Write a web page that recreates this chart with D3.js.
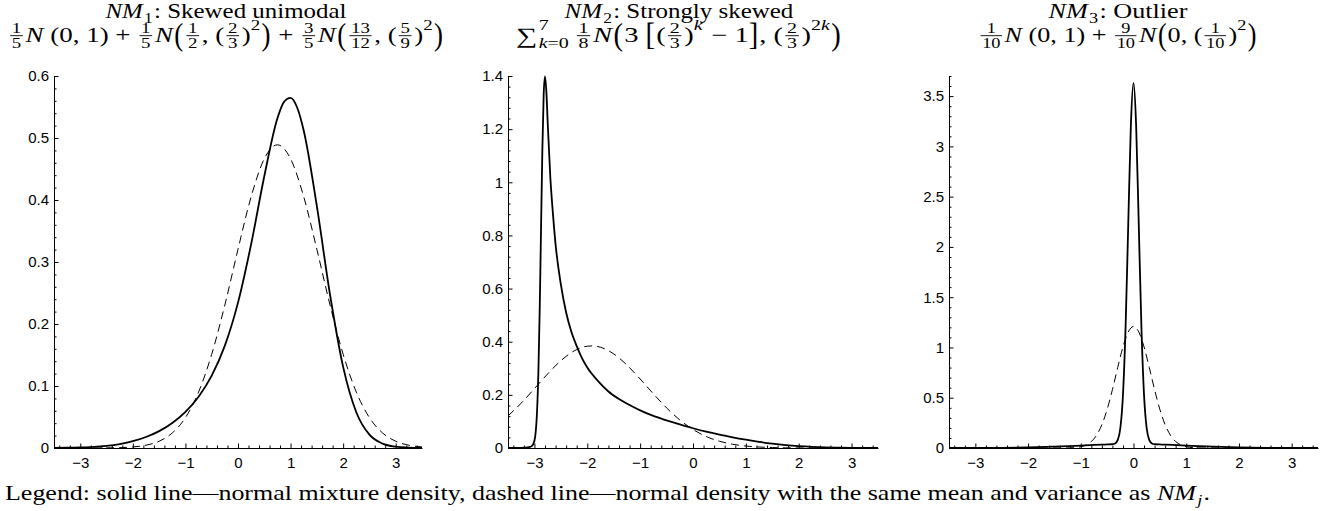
<!DOCTYPE html>
<html lang="en">
<head>
    <meta charset="UTF-8">
    <title>Normal mixture densities</title>
</head>
<style>
    body { margin: 0; background: #fff; }
    text { fill: #000; }
</style>
<script src="https://cdn.jsdelivr.net/npm/d3@7"></script>
<body>
<script>
    // ---- data ----
    // NM1: skewed unimodal
    var nm1X = [-3.5, -3.25, -3, -2.75, -2.5, -2.25, -2, -1.75, -1.5, -1.25, -1, -0.75, -0.5, -0.25, 0, 0.25, 0.5, 0.75, 0.875, 1, 1.125, 1.25, 1.5, 1.75, 2, 2.25, 2.5, 2.75, 3, 3.25, 3.5];
    var nm1Mix = [0.0002, 0.0004, 0.0009, 0.0018, 0.0035, 0.0064, 0.0109, 0.0177, 0.0272, 0.0404, 0.0583, 0.0827, 0.1167, 0.1651, 0.2345, 0.3288, 0.4384, 0.5317, 0.5582, 0.5648, 0.5492, 0.5120, 0.3900, 0.2476, 0.1308, 0.0577, 0.0215, 0.0070, 0.0021, 0.0007, 0.0002];
    var nm1NX = [-3.5, -3.25, -3, -2.75, -2.5, -2.25, -2, -1.75, -1.5, -1.25, -1, -0.75, -0.5, -0.25, 0, 0.25, 0.5, 0.75, 1, 1.25, 1.5, 1.75, 2, 2.25, 2.5, 2.75, 3, 3.25, 3.5];
    var nm1Normal = [0, 0, 0, 0.0001, 0.0002, 0.0006, 0.0017, 0.0045, 0.0109, 0.0242, 0.0490, 0.0902, 0.1512, 0.2307, 0.3205, 0.4053, 0.4665, 0.4890, 0.4665, 0.4053, 0.3205, 0.2307, 0.1512, 0.0902, 0.0490, 0.0242, 0.0109, 0.0045, 0.0017];

    // NM2: strongly skewed
    var nm2X = [-3.5, -3.25, -3.1, -3.05, -3, -2.975, -2.95, -2.925, -2.9, -2.875, -2.85, -2.825, -2.8, -2.775, -2.75, -2.7, -2.65, -2.6, -2.5, -2.4, -2.3, -2.2, -2.1, -2, -1.8, -1.6, -1.4, -1.2, -1, -0.75, -0.5, -0.25, 0, 0.25, 0.5, 0.75, 1, 1.25, 1.5, 1.75, 2, 2.25, 2.5, 2.75, 3, 3.25, 3.5];
    var nm2Mix = [0.0002, 0.0008, 0.0032, 0.0071, 0.0273, 0.0621, 0.1394, 0.2871, 0.5220, 0.8231, 1.1219, 1.3297, 1.3988, 1.3439, 1.2295, 1.0208, 0.8819, 0.7665, 0.6155, 0.5099, 0.4364, 0.3836, 0.3381, 0.3027, 0.2528, 0.2128, 0.1844, 0.1619, 0.1416, 0.1207, 0.1041, 0.0888, 0.0743, 0.0612, 0.0500, 0.0400, 0.0311, 0.0231, 0.0163, 0.0108, 0.0067, 0.0040, 0.0022, 0.0011, 0.0006, 0.0003, 0.0001];
    var nm2NX = [-3.5, -3.25, -3, -2.75, -2.5, -2.25, -2, -1.9, -1.75, -1.5, -1.25, -1, -0.75, -0.5, -0.25, 0, 0.25, 0.5, 0.75, 1, 1.25, 1.5, 1.75, 2, 2.25, 2.5, 3, 3.5];
    var nm2Normal = [0.1205, 0.1689, 0.2234, 0.2789, 0.3286, 0.3652, 0.3831, 0.3843, 0.3792, 0.3542, 0.3122, 0.2597, 0.2039, 0.1510, 0.1056, 0.0696, 0.0433, 0.0255, 0.0141, 0.0074, 0.0036, 0.0017, 0.0007, 0.0003, 0.0001, 0, 0, 0];

    // NM3: outlier
    var nm3X = [-3.5, -3, -2.5, -2, -1.5, -1, -0.75, -0.6, -0.5, -0.4, -0.35, -0.3, -0.25, -0.2, -0.15, -0.1, -0.05, 0, 0.05, 0.1, 0.15, 0.2, 0.25, 0.3, 0.35, 0.4, 0.5, 0.6, 0.75, 1, 1.5, 2, 2.5, 3, 3.5];
    var nm3Mix = [0.0001, 0.0004, 0.0018, 0.0054, 0.0130, 0.0242, 0.0301, 0.0333, 0.0352, 0.0380, 0.0454, 0.0780, 0.1964, 0.5250, 1.2051, 2.2174, 3.2084, 3.6304, 3.2084, 2.2174, 1.2051, 0.5250, 0.1964, 0.0780, 0.0454, 0.0380, 0.0352, 0.0333, 0.0301, 0.0242, 0.0130, 0.0054, 0.0018, 0.0004, 0.0001];
    var nm3NX = [-3.5, -2, -1.6, -1.4, -1.2, -1, -0.9, -0.8, -0.7, -0.6, -0.5, -0.4, -0.3, -0.2, -0.1, 0, 0.1, 0.2, 0.3, 0.4, 0.5, 0.6, 0.7, 0.8, 0.9, 1, 1.2, 1.4, 1.6, 2, 3.5];
    var nm3Normal = [0, 0, 0, 0.0002, 0.0016, 0.0123, 0.0294, 0.0641, 0.1277, 0.2318, 0.3838, 0.5800, 0.7997, 1.0058, 1.1542, 1.2084, 1.1542, 1.0058, 0.7997, 0.5800, 0.3838, 0.2318, 0.1277, 0.0641, 0.0294, 0.0123, 0.0016, 0.0002, 0, 0, 0];

    // tick labels
    var xTicks = [-3, -2, -1, 0, 1, 2, 3];
    var yTicks1 = [0, 0.1, 0.2, 0.3, 0.4, 0.5, 0.6];
    var yTicks2 = [0, 0.2, 0.4, 0.6, 0.8, 1, 1.2, 1.4];
    var yTicks3 = [0, 0.5, 1, 1.5, 2, 2.5, 3, 3.5];

    // titles, as little math token lists
    var titles = [
        [["i", "NM"], ["sub", "1"], ["t", ": Skewed unimodal"]],
        [["i", "NM"], ["sub", "2"], ["t", ": Strongly skewed"]],
        [["i", "NM"], ["sub", "3"], ["t", ": Outlier"]]
    ];
    var formulas = [
        [["frac", "1", "5"], ["i", "N"], ["sp", 0.2], ["t", "(0, 1) + "], ["frac", "1", "5"], ["i", "N"], ["big", "(", 1.5],
         ["frac", "1", "2"], ["t", ", ("], ["frac", "2", "3"], ["t", ")"], ["sup", "2"], ["big", ")", 1.5], ["t", " + "],
         ["frac", "3", "5"], ["i", "N"], ["big", "(", 1.5], ["frac", "13", "12"], ["t", ", ("], ["frac", "5", "9"], ["t", ")"], ["sup", "2"], ["big", ")", 1.5]],
        [["sum", "7", "k=0"], ["frac", "1", "8"], ["i", "N"], ["big", "(", 1.5], ["t", "3 "], ["big", "[", 1.5], ["t", "("], ["frac", "2", "3"], ["t", ")"], ["sup", "k"],
         ["t", " − 1"], ["big", "]", 1.5], ["t", ", ("], ["frac", "2", "3"], ["t", ")"], ["sup", "2k"], ["big", ")", 1.5]],
        [["frac", "1", "10"], ["i", "N"], ["sp", 0.2], ["t", "(0, 1) + "], ["frac", "9", "10"], ["i", "N"], ["big", "(", 1.5],
         ["t", "0, ("], ["frac", "1", "10"], ["t", ")"], ["sup", "2"], ["big", ")", 1.5]]
    ];
    var legend = [["t", "Legend: solid line—normal mixture density, dashed line—normal density with the same mean and variance as "], ["i", "NM"], ["sub", "j"], ["t", "."]];

    // ---- layout ----
    var width = 1328;
    var height = 511;
    var serif = "'Liberation Serif', 'DejaVu Serif', serif";
    var sans = "'Liberation Sans', Arial, sans-serif";
    var mathSize = 21;
    var plotTop = 76, plotBottom = 448;

    // target widths of the title lines (the TeX font runs wider than Times)
    var panels = [
        {x0: 54, x1: 422, yMax: 0.6, yTicks: yTicks1, yMinor: 0.02, cx: 226, w1: 241, w2: 436,
         mixX: nm1X, mix: nm1Mix, normX: nm1NX, norm: nm1Normal},
        {x0: 508, x1: 878, yMax: 1.4, yTicks: yTicks2, yMinor: 0.04, cx: 679, w1: 229, w2: 326,
         mixX: nm2X, mix: nm2Mix, normX: nm2NX, norm: nm2Normal},
        {x0: 949, x1: 1318, yMax: 3.7, yTicks: yTicks3, yMinor: 0.1, cx: 1118, w1: 139, w2: 279,
         mixX: nm3X, mix: nm3Mix, normX: nm3NX, norm: nm3Normal}
    ];

    var svg = d3.select('body')
                .append('svg')
                .attr('width', width)
                .attr('height', height);

    // runs of letters in italic, the rest upright
    function mathText(t, str) {
        var parts = str.match(/[A-Za-z]+|[^A-Za-z]+/g);
        parts.forEach(function(p) {
            t.append('tspan')
                .attr('font-style', /[A-Za-z]/.test(p) ? 'italic' : 'normal')
                .text(p);
        });
        return t;
    }

    function drawMath(g, tokens, fs) {
        var x = 0;
        var axisY = -fs * 0.3;
        tokens.forEach(function(tok) {
            var kind = tok[0];
            var t;
            if (kind === 't' || kind === 'i') {
                t = g.append('text')
                    .attr('x', x)
                    .attr('font-size', fs)
                    .attr('font-style', kind === 'i' ? 'italic' : 'normal')
                    .style('white-space', 'pre')
                    .text(tok[1]);
                x += t.node().getComputedTextLength() + (kind === 'i' ? fs * 0.05 : 0);
            } else if (kind === 'sp') {
                x += fs * tok[1];
            } else if (kind === 'sub' || kind === 'sup') {
                t = mathText(g.append('text')
                    .attr('x', x)
                    .attr('y', kind === 'sub' ? fs * 0.22 : -fs * 0.55)
                    .attr('font-size', fs * 0.7), tok[1]);
                x += t.node().getComputedTextLength() + fs * 0.05;
            } else if (kind === 'frac') {
                var sfs = fs * 0.7;
                var num = mathText(g.append('text')
                    .attr('y', axisY - fs * 0.12)
                    .attr('font-size', sfs)
                    .attr('text-anchor', 'middle'), tok[1]);
                var den = mathText(g.append('text')
                    .attr('y', axisY + fs * 0.12 + sfs * 0.68)
                    .attr('font-size', sfs)
                    .attr('text-anchor', 'middle'), tok[2]);
                var w = Math.max(num.node().getComputedTextLength(), den.node().getComputedTextLength()) + fs * 0.12;
                var fx = x + fs * 0.08;
                num.attr('x', fx + w / 2);
                den.attr('x', fx + w / 2);
                g.append('line')
                    .attr('x1', fx).attr('x2', fx + w)
                    .attr('y1', axisY).attr('y2', axisY)
                    .attr('stroke', '#000')
                    .attr('stroke-width', 0.9);
                x = fx + w + fs * 0.1;
            } else if (kind === 'big') {
                t = g.append('text')
                    .attr('font-size', fs)
                    .attr('transform', 'translate(' + x + ',' + axisY + ') scale(1,' + tok[2] + ') translate(0,' + (-axisY) + ')')
                    .text(tok[1]);
                x += t.node().getComputedTextLength() + fs * 0.04;
            } else if (kind === 'sum') {
                t = g.append('text')
                    .attr('x', x)
                    .attr('y', fs * 0.05)
                    .attr('font-size', fs * 1.05)
                    .text('∑');
                x += t.node().getComputedTextLength() + fs * 0.05;
                var sup = mathText(g.append('text').attr('x', x).attr('y', -fs * 0.55).attr('font-size', fs * 0.7), tok[1]);
                var sub = mathText(g.append('text').attr('x', x).attr('y', fs * 0.3).attr('font-size', fs * 0.7), tok[2]);
                x += Math.max(sup.node().getComputedTextLength(), sub.node().getComputedTextLength()) + fs * 0.2;
            }
        });
        return x;
    }

    // lay a line out, then stretch it sideways to the width it has in the picture
    function placeMath(tokens, x0, baseline, fs, target, centered) {
        var outer = svg.append('g');
        var g = outer.append('g').attr('font-family', serif);
        var w = drawMath(g, tokens, fs);
        var sx = Math.max(1, Math.min(1.4, target / w));
        var left = centered ? x0 - w * sx / 2 : x0;
        outer.attr('transform', 'translate(' + left + ',' + baseline + ') scale(' + sx + ',1)');
    }

    var line = d3.line().curve(d3.curveMonotoneX);

    panels.forEach(function(p, i) {
        var x = d3.scaleLinear().domain([-3.5, 3.5]).range([p.x0, p.x1]);
        var y = d3.scaleLinear().domain([0, p.yMax]).range([plotBottom, plotTop]);

        var g = svg.append('g');

        // minor ticks first, then the main axes over them
        var yMinor = d3.range(0, p.yMax + 1e-9, p.yMinor).filter(function(v) {
            return p.yTicks.every(function(t) { return Math.abs(t - v) > 1e-6; });
        });
        var xMinor = d3.range(-3.4, 3.41, 0.2).filter(function(v) {
            return Math.abs(v - Math.round(v)) > 1e-6;
        });

        g.append('g')
            .attr('transform', 'translate(' + p.x0 + ',0)')
            .call(d3.axisLeft(y).tickValues(yMinor).tickFormat('').tickSizeInner(-2.5).tickSizeOuter(0))
            .call(function(a) { a.select('.domain').remove(); });

        g.append('g')
            .attr('transform', 'translate(0,' + plotBottom + ')')
            .call(d3.axisBottom(x).tickValues(xMinor).tickFormat('').tickSizeInner(-2.5).tickSizeOuter(0))
            .call(function(a) { a.select('.domain').remove(); });

        g.append('g')
            .attr('transform', 'translate(' + p.x0 + ',0)')
            .call(d3.axisLeft(y).tickValues(p.yTicks).tickFormat(d3.format('~g')).tickSizeInner(-4.5).tickSizeOuter(0).tickPadding(5));

        g.append('g')
            .attr('transform', 'translate(0,' + plotBottom + ')')
            .call(d3.axisBottom(x).tickValues(xTicks).tickFormat(d3.format('~g')).tickSizeInner(-4.5).tickSizeOuter(0).tickPadding(9));

        g.selectAll('.tick text')
            .attr('font-family', sans)
            .attr('font-size', 15)
            .attr('fill', '#000');
        g.selectAll('.domain, .tick line').attr('stroke', '#000');

        // dashed normal first, solid mixture on top
        g.append('path')
            .attr('d', line(p.normX.map(function(v, k) { return [x(v), y(p.norm[k])]; })))
            .attr('fill', 'none')
            .attr('stroke', '#000')
            .attr('stroke-width', 1)
            .attr('stroke-dasharray', '8,5');

        g.append('path')
            .attr('d', line(p.mixX.map(function(v, k) { return [x(v), y(p.mix[k])]; })))
            .attr('fill', 'none')
            .attr('stroke', '#000')
            .attr('stroke-width', 1.8)
            .attr('stroke-linejoin', 'round');

        placeMath(titles[i], p.cx, 18, mathSize, p.w1, true);
        placeMath(formulas[i], p.cx, 42, mathSize, p.w2, true);
    });

    // legend line at the bottom
    placeMath(legend, 5, 500, mathSize, 1205, false);
</script>
</body>
</html>
